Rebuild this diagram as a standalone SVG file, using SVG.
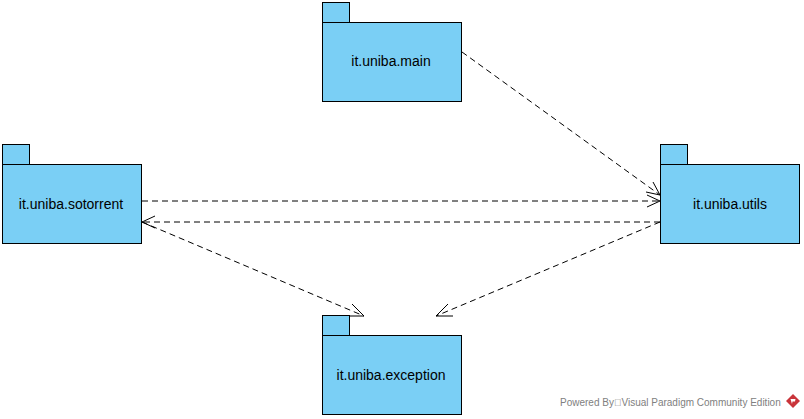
<svg xmlns="http://www.w3.org/2000/svg" width="804" height="419" viewBox="0 0 804 419">
<style>
.pk{fill:#7acff5;stroke:#000;stroke-width:1}
.lb{font-family:"Liberation Sans",Arial,sans-serif;font-size:14px;fill:#000;text-anchor:middle}
.ed{fill:none;stroke:#000;stroke-width:1;stroke-dasharray:6 4}
.hd{fill:none;stroke:#000;stroke-width:1}
.ft{font-family:"Liberation Sans",Arial,sans-serif;font-size:10px;fill:#808080}
</style>
<defs>
<g id="package">
<rect class="pk" x="0.5" y="0.5" width="27" height="20"/>
<rect class="pk" x="0.5" y="20.5" width="139" height="79"/>
</g>
</defs>
<rect width="804" height="419" fill="#fff"/>
<g id="connectors">
<path class="ed" d="M462 52L660 195"/>
<path class="hd" d="M653 182L660 195L646 192"/>
<path class="ed" d="M142 201H660"/>
<path class="hd" d="M647 195L660 201L647 207"/>
<path class="ed" d="M660 222H142"/>
<path class="hd" d="M155 216L142 222L155 228"/>
<path class="ed" d="M142 222L364 316"/>
<path class="hd" d="M352 304L364 316L347 316"/>
<path class="ed" d="M660 222L436 316"/>
<path class="hd" d="M448 304L436 316L453 316"/>
</g>
<g id="main"><use href="#package" x="322" y="2"/><text class="lb" x="391" y="66">it.uniba.main</text></g>
<g id="sotorrent"><use href="#package" x="2" y="144"/><text class="lb" x="71" y="209">it.uniba.sotorrent</text></g>
<g id="utils"><use href="#package" x="660" y="144"/><text class="lb" x="730" y="209">it.uniba.utils</text></g>
<g id="exception"><use href="#package" x="322" y="315"/><text class="lb" x="391" y="380">it.uniba.exception</text></g>
<g id="footer">
<text class="ft" x="560" y="406">Powered By&#xE000;Visual Paradigm Community Edition</text>
<path d="M793 394L800 401L793 408L786 401Z" fill="#c9343a"/>
<path d="M790.500 399H795.500L795 401.500H792.500L792 404Z" fill="#fff"/>
</g>
</svg>
